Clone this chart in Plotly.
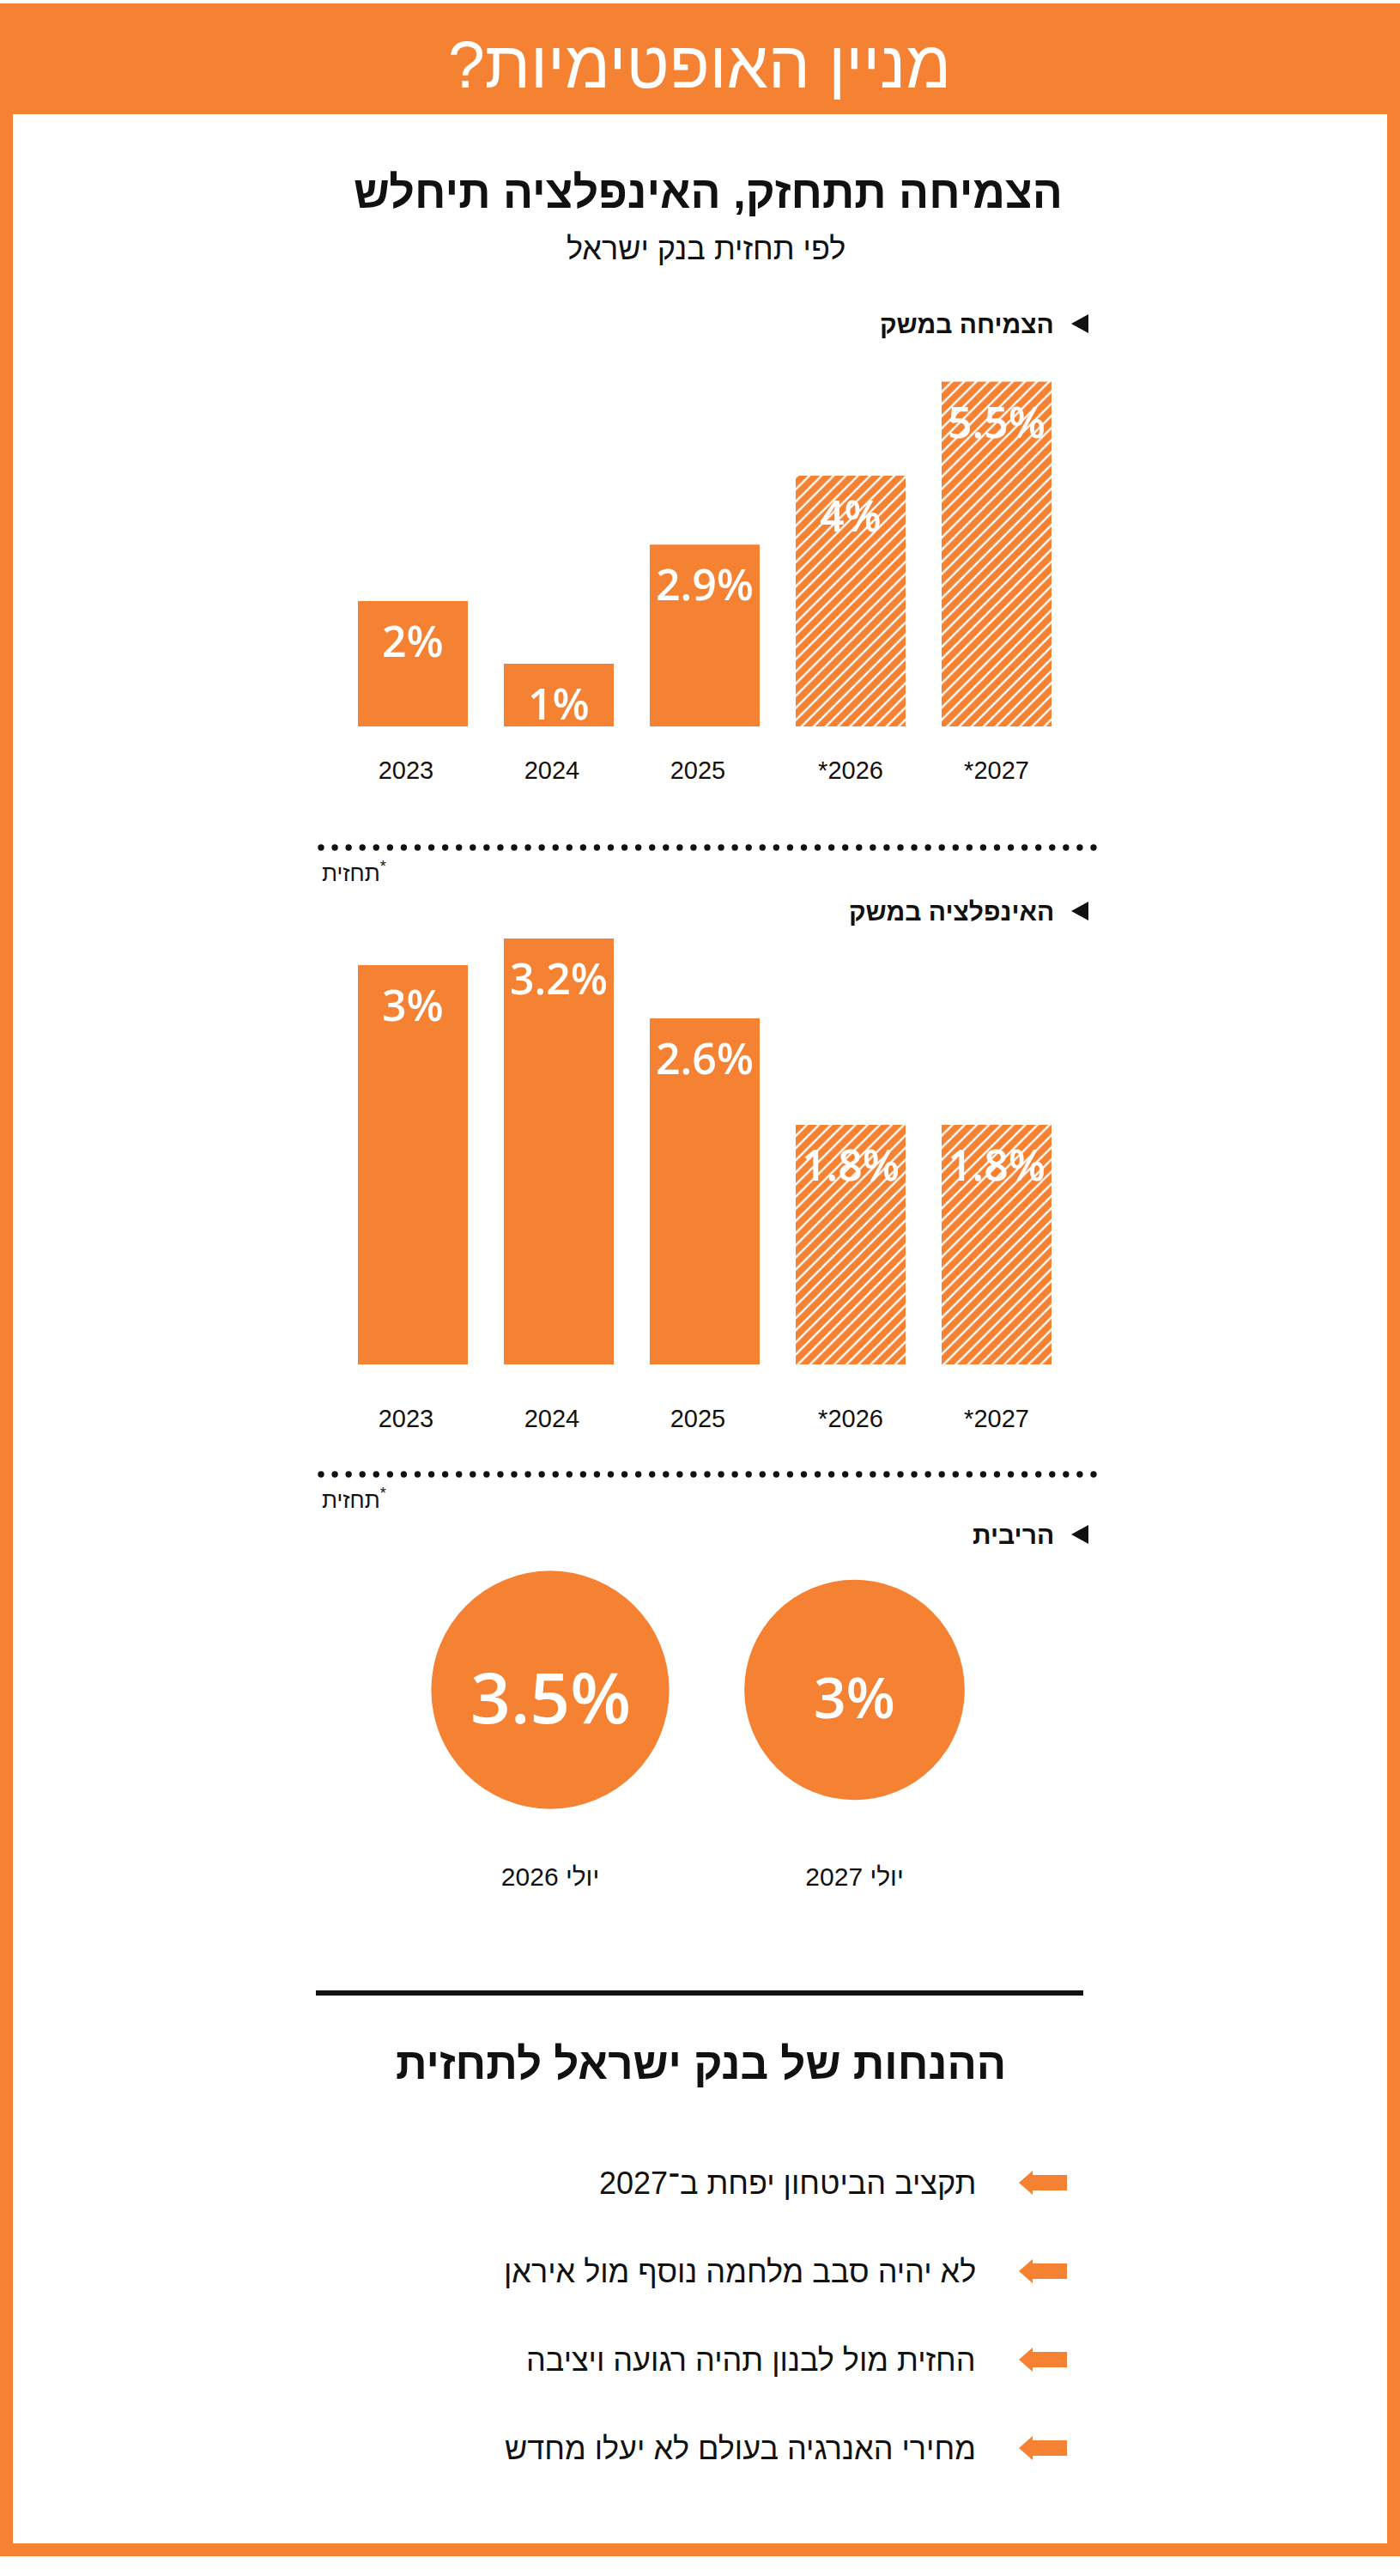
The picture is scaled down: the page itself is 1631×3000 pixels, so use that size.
import plotly.graph_objects as go

W, H = 1631, 3000
ORANGE = "#F58233"
INK = "#111111"
HEB = "Liberation Sans, DejaVu Sans, sans-serif"
NARROW = "Liberation Sans Narrow, Liberation Sans, DejaVu Sans Condensed, sans-serif"
NUM = "Open Sans, Liberation Sans, sans-serif"

# ---------------- data ----------------
years = ["2023", "2024", "2025", "*2026", "*2027"]
growth = [2, 1, 2.9, 4, 5.5]
inflation = [3, 3.2, 2.6, 1.8, 1.8]
is_forecast = [False, False, False, True, True]

rate_dates = ["יולי 2026", "יולי 2027"]
rates = [3.5, 3]

header_text = "מניין האופטימיות?\u200f"
title_text = "הצמיחה תתחזק, האינפלציה תיחלש"
subtitle_text = "לפי תחזית בנק ישראל"
section_growth = "הצמיחה במשק"
section_infl = "האינפלציה במשק"
section_rate = "הריבית"
footnote = "תחזית<sup>*</sup>"
assump_title = "ההנחות של בנק ישראל לתחזית"
assumptions = [
    "תקציב הביטחון יפחת ב־2027",
    "לא יהיה סבב מלחמה נוסף מול איראן",
    "החזית מול לבנון תהיה רגועה ויציבה",
    "מחירי האנרגיה בעולם לא יעלו מחדש",
]


def fx(x):
    return x / W


def fy(y):
    return 1 - y / H


def pct(v):
    return f"{v:g}%"


# labels are left-aligned in the original: pad plain years to the width of "*20xx"
year_ticktext = [y if y.startswith("*") else y + "\u2007" for y in years]
patterns = ["/" if f else "" for f in is_forecast]

fig = go.Figure()

bar_style = dict(
    marker=dict(
        color=ORANGE,
        line=dict(width=0),
        pattern=dict(shape=patterns, fgcolor="white", bgcolor=ORANGE,
                     size=10, solidity=0.24, fillmode="replace"),
    ),
    hoverinfo="skip",
    showlegend=False,
)

fig.add_trace(go.Bar(x=years, y=growth, xaxis="x", yaxis="y", **bar_style))
fig.add_trace(go.Bar(x=years, y=inflation, xaxis="x2", yaxis="y2", **bar_style))

# circles (area proportional to rate)
fig.add_trace(go.Scatter(
    x=rate_dates, y=[0] * len(rates), xaxis="x3", yaxis="y3",
    mode="markers",
    marker=dict(size=rates, sizemode="area", sizeref=2 / 148.2 ** 2,
                color=ORANGE, opacity=1, line=dict(width=0)),
    cliponaxis=False, hoverinfo="skip", showlegend=False,
))

axis_common = dict(showgrid=False, zeroline=False, showline=False, ticks="",
                   fixedrange=True)
tickfont = dict(family=NARROW, size=29, color=INK)

layout = dict(
    width=W, height=H,
    margin=dict(l=0, r=0, t=0, b=0),
    paper_bgcolor="white", plot_bgcolor="rgba(0,0,0,0)",
    bargap=0.247,
    xaxis=dict(domain=[fx(396), fx(1246)], type="category", range=[-0.5, 4.5],
               tickmode="array", tickvals=years, ticktext=year_ticktext,
               tickfont=tickfont, ticklabelstandoff=31, **axis_common),
    yaxis=dict(domain=[fy(846), fy(846 - 73 * 6)], range=[0, 6],
               showticklabels=False, **axis_common),
    xaxis2=dict(domain=[fx(396), fx(1246)], type="category", range=[-0.5, 4.5],
                tickmode="array", tickvals=years, ticktext=year_ticktext,
                anchor="y2", tickfont=tickfont, ticklabelstandoff=43, **axis_common),
    yaxis2=dict(domain=[fy(1589), fy(1589 - 155 * 3.4)], range=[0, 3.4],
                anchor="x2", showticklabels=False, **axis_common),
    xaxis3=dict(domain=[fx(463.75), fx(1172.75)], type="category", range=[-0.5, 1.5],
                anchor="y3", tickfont=dict(family=HEB, size=30, color=INK),
                ticklabelstandoff=49, **axis_common),
    yaxis3=dict(domain=[fy(2116), fy(1820)], range=[-1, 1], anchor="x3",
                showticklabels=False, **axis_common),
)
fig.update_layout(**layout)

shapes = []
annotations = []

# frame and header band
shapes.append(dict(type="rect", xref="paper", yref="paper", x0=fx(0), x1=fx(W),
                   y0=fy(133), y1=fy(4), fillcolor=ORANGE, line=dict(width=0), layer="below"))
shapes.append(dict(type="rect", xref="paper", yref="paper", x0=fx(0), x1=fx(15),
                   y0=fy(2977), y1=fy(130), fillcolor=ORANGE, line=dict(width=0), layer="below"))
shapes.append(dict(type="rect", xref="paper", yref="paper", x0=fx(1616), x1=fx(W),
                   y0=fy(2977), y1=fy(130), fillcolor=ORANGE, line=dict(width=0), layer="below"))
shapes.append(dict(type="rect", xref="paper", yref="paper", x0=fx(0), x1=fx(1624),
                   y0=fy(2977), y1=fy(2962), fillcolor=ORANGE, line=dict(width=0), layer="below"))

annotations.append(dict(xref="paper", yref="paper", x=fx(815), y=fy(75), text=header_text,
                        showarrow=False, xanchor="center", yanchor="middle",
                        font=dict(family=HEB, size=77, color="white")))
annotations.append(dict(xref="paper", yref="paper", x=fx(825), y=fy(224), text=title_text,
                        showarrow=False, xanchor="center", yanchor="middle",
                        font=dict(family=HEB, size=52, color=INK, weight="bold")))
annotations.append(dict(xref="paper", yref="paper", x=fx(822), y=fy(289), text=subtitle_text,
                        showarrow=False, xanchor="center", yanchor="middle",
                        font=dict(family=HEB, size=36, color=INK)))


def section(label, yc):
    annotations.append(dict(xref="paper", yref="paper", x=fx(1230), y=fy(yc), text=label,
                            showarrow=False, xanchor="right", yanchor="middle",
                            font=dict(family=HEB, size=30, color=INK, weight="bold")))
    path = (f"M {fx(1248)},{fy(yc)} L {fx(1268)},{fy(yc - 11)} "
            f"L {fx(1268)},{fy(yc + 11)} Z")
    shapes.append(dict(type="path", xref="paper", yref="paper", path=path,
                       fillcolor=INK, line=dict(width=0)))


section(section_growth, 377)
section(section_infl, 1061)
section(section_rate, 1787)


def dotted(yc):
    n = 57
    x0, x1 = 374, 1274
    step = (x1 - x0) / (n - 1)
    r = 3.7
    for i in range(n):
        cx = x0 + i * step
        shapes.append(dict(type="circle", xref="paper", yref="paper",
                           x0=fx(cx - r), x1=fx(cx + r), y0=fy(yc + r), y1=fy(yc - r),
                           fillcolor=INK, line=dict(width=0)))


dotted(987)
dotted(1717)
for yc in (1015, 1745):
    annotations.append(dict(xref="paper", yref="paper", x=fx(373), y=fy(yc), text=footnote,
                            showarrow=False, xanchor="left", yanchor="middle",
                            font=dict(family=HEB, size=26, color=INK)))

# value labels on bars (category index used for placement)
for xa, ya, vals in (("x", "y", growth), ("x2", "y2", inflation)):
    for i, v in enumerate(vals):
        annotations.append(dict(xref=xa, yref=ya, x=i, y=v, text=pct(v),
                                showarrow=False, xanchor="center", yanchor="middle",
                                yshift=-46,
                                font=dict(family=NUM, size=50, color="white", weight=600)))

# value labels in the circles
circle_font_sizes = [82, 66]
for i, (r, fs) in enumerate(zip(rates, circle_font_sizes)):
    annotations.append(dict(xref="x3", yref="y3", x=i, y=0, text=pct(r),
                            showarrow=False, xanchor="center", yanchor="middle",
                            yshift=-7,
                            font=dict(family=NUM, size=fs, color="white", weight=600)))

# assumptions block
shapes.append(dict(type="line", xref="paper", yref="paper", x0=fx(368), x1=fx(1262),
                   y0=fy(2321), y1=fy(2321), line=dict(color=INK, width=6)))
annotations.append(dict(xref="paper", yref="paper", x=fx(816), y=fy(2403), text=assump_title,
                        showarrow=False, xanchor="center", yanchor="middle",
                        font=dict(family=HEB, size=51, color=INK, weight="bold")))

item_y = [2542, 2645, 2748, 2851]
for txt, yc in zip(assumptions, item_y):
    annotations.append(dict(xref="paper", yref="paper", x=fx(1139), y=fy(yc), text=txt,
                            showarrow=False, xanchor="right", yanchor="middle",
                            font=dict(family=HEB, size=36, color=INK)))
    path = (f"M {fx(1187)},{fy(yc)} L {fx(1203)},{fy(yc - 14)} L {fx(1203)},{fy(yc - 9)} "
            f"L {fx(1243)},{fy(yc - 9)} L {fx(1243)},{fy(yc + 9)} L {fx(1203)},{fy(yc + 9)} "
            f"L {fx(1203)},{fy(yc + 14)} Z")
    shapes.append(dict(type="path", xref="paper", yref="paper", path=path,
                       fillcolor=ORANGE, line=dict(width=0)))

fig.update_layout(shapes=shapes, annotations=annotations)
fig.write_html("out.html", config={"displayModeBar": False})
